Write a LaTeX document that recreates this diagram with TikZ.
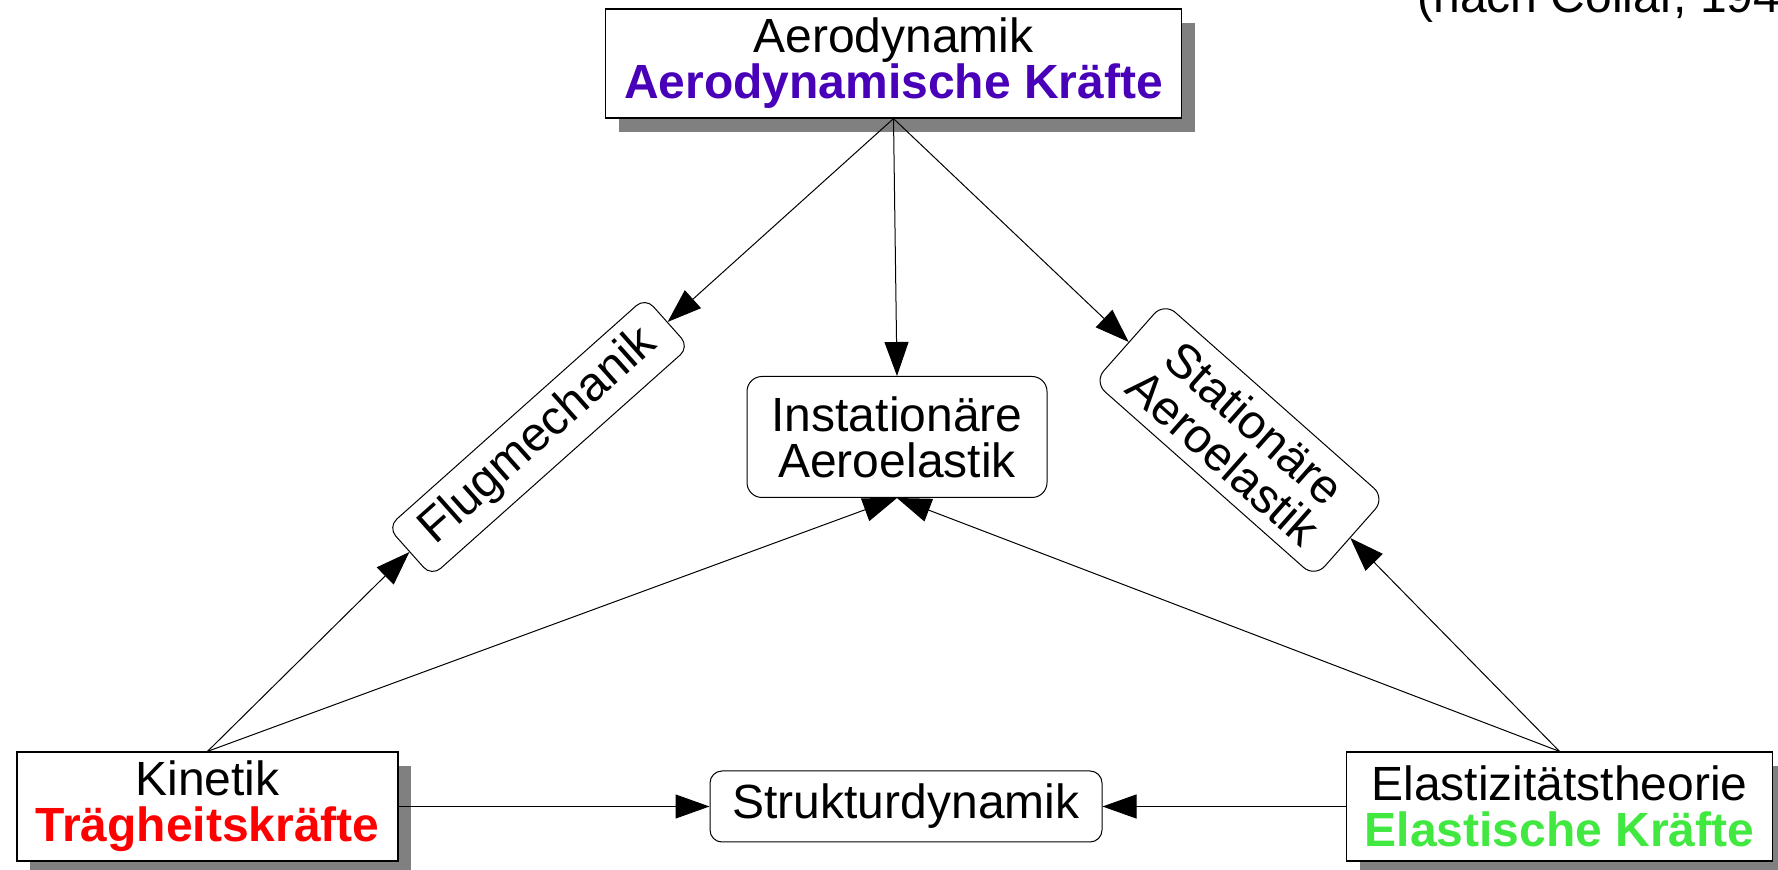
\documentclass[tikz,border=0pt]{standalone}
\usepackage{fontspec}
\setmainfont{Liberation Sans}
\usetikzlibrary{arrows.meta,shadows}
\definecolor{aeropurple}{RGB}{72,0,184}
\definecolor{elgreen}{RGB}{64,232,64}
\definecolor{shadowgray}{RGB}{128,128,128}
\tikzset{
  every node/.style={font=\fontsize{24pt}{23pt}\selectfont, align=center},
  mainbox/.style={draw=black, line width=0.6pt, fill=white, inner sep=0pt,
    drop shadow={shadow xshift=6.5pt, shadow yshift=-7pt, fill=shadowgray, opacity=1}},
  subbox/.style={draw=black, line width=0.5pt, fill=white, rounded corners=6pt, inner sep=0pt},
  conn/.style={line width=0.5pt, -{Triangle[length=17pt,width=12pt]}}
}
\begin{document}
\begin{tikzpicture}[x=0.5pt,y=-0.5pt]
\useasboundingbox (0,0) rectangle (1778,870);
\clip (0,0) rectangle (1778,870);
\node[mainbox, minimum width=288pt, minimum height=54.5pt] (aero) at (893.5,63.5)
  {Aerodynamik\\\textbf{\textcolor{aeropurple}{Aerodynamische Kräfte}}};
\node[mainbox, minimum width=190.5pt, minimum height=54.5pt] (kin) at (207.5,806.5)
  {Kinetik\\\textbf{\textcolor{red}{Trägheitskräfte}}};
\node[mainbox, minimum width=213pt, minimum height=54.5pt] (el) at (1559.5,806.5)
  {Elastizitätstheorie\\\textbf{\textcolor{elgreen}{Elastische Kräfte}}};
\node[subbox, minimum width=196pt, minimum height=35.5pt] (struk) at (906,806.5) {Strukturdynamik};
\node[subbox, rounded corners=7.5pt, minimum width=150pt, minimum height=60.5pt] (inst) at (897,437)
  {Instationäre\\Aeroelastik};
\node[subbox, rotate=41.7, minimum width=172.5pt, minimum height=33pt] (flug) at (538.5,437) {Flugmechanik};
\node[subbox, rotate=-41.5, rounded corners=7.5pt, minimum width=147.5pt, minimum height=53pt] (stat) at (1239.5,440)
  {Stationäre\\Aeroelastik};
\node[anchor=base west, inner sep=0pt] (src) at (1417,13) {(nach Collar, 194};
\draw[conn] (aero.south) -- (flug.east);
\draw[conn] (aero.south) -- (inst.north);
\draw[conn] (aero.south) -- (stat.west);
\draw[conn] (kin.north) -- (flug.west);
\draw[conn] (kin.north) -- (inst.south);
\draw[conn] (el.north) -- (stat.east);
\draw[conn] (el.north) -- (inst.south);
\draw[conn] (kin.east) -- (struk.west);
\draw[conn] (el.west) -- (struk.east);
\end{tikzpicture}
\end{document}
